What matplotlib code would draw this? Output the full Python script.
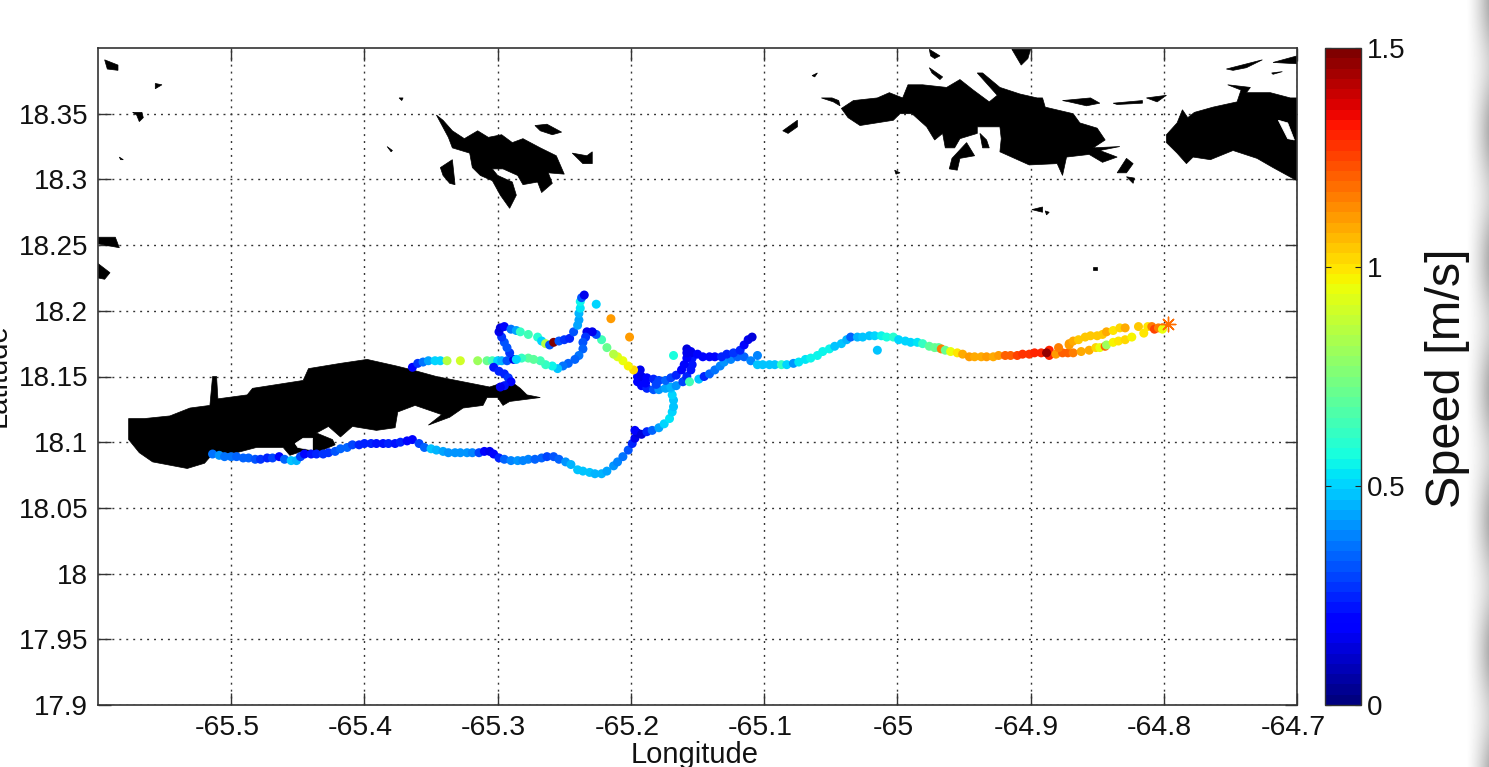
import numpy as np
import matplotlib
matplotlib.use('Agg')
import matplotlib.pyplot as plt
from matplotlib.cm import ScalarMappable
from matplotlib.colors import Normalize
from matplotlib.patches import Polygon
from matplotlib.transforms import ScaledTranslation

plt.rcParams['font.family'] = ['Liberation Sans', 'DejaVu Sans']

x_ticks = [-65.5, -65.4, -65.3, -65.2, -65.1, -65, -64.9, -64.8, -64.7]
x_labels = ['-65.5', '-65.4', '-65.3', '-65.2', '-65.1', '-65', '-64.9', '-64.8', '-64.7']
y_ticks = [17.9, 17.95, 18, 18.05, 18.1, 18.15, 18.2, 18.25, 18.3, 18.35]
y_labels = ['17.9', '17.95', '18', '18.05', '18.1', '18.15', '18.2', '18.25', '18.3', '18.35']
bar_ticks = [0, 0.5, 1, 1.5]
bar_labels = ['0', '0.5', '1', '1.5']

# coastlines, (lon, lat)
vieques = [(-65.577, 18.118), (-65.565, 18.118), (-65.546, 18.120), (-65.531, 18.126), (-65.516, 18.128),
           (-65.514, 18.150), (-65.511, 18.150), (-65.510, 18.133), (-65.488, 18.136), (-65.484, 18.141),
           (-65.446, 18.147), (-65.442, 18.156), (-65.418, 18.160), (-65.398, 18.163), (-65.376, 18.158),
           (-65.364, 18.155), (-65.346, 18.150), (-65.331, 18.147), (-65.306, 18.142), (-65.291, 18.147),
           (-65.283, 18.141), (-65.278, 18.136), (-65.268, 18.134), (-65.291, 18.131), (-65.296, 18.128),
           (-65.300, 18.134), (-65.308, 18.134), (-65.311, 18.128), (-65.326, 18.126), (-65.336, 18.119),
           (-65.352, 18.113), (-65.342, 18.121), (-65.362, 18.128), (-65.375, 18.123), (-65.377, 18.111),
           (-65.391, 18.109), (-65.409, 18.112), (-65.418, 18.104), (-65.427, 18.112), (-65.436, 18.107),
           (-65.424, 18.102), (-65.422, 18.098), (-65.436, 18.092), (-65.447, 18.093), (-65.456, 18.090),
           (-65.461, 18.096), (-65.481, 18.096), (-65.496, 18.092), (-65.514, 18.091), (-65.520, 18.084),
           (-65.533, 18.080), (-65.559, 18.085), (-65.569, 18.092), (-65.577, 18.102)]
culebra = [(-65.346, 18.349), (-65.341, 18.345), (-65.334, 18.337), (-65.325, 18.331), (-65.315, 18.337),
           (-65.307, 18.332), (-65.297, 18.334), (-65.289, 18.328), (-65.281, 18.331), (-65.268, 18.324),
           (-65.256, 18.318), (-65.250, 18.304), (-65.262, 18.305), (-65.259, 18.297), (-65.267, 18.290),
           (-65.270, 18.298), (-65.281, 18.296), (-65.285, 18.303), (-65.296, 18.308), (-65.304, 18.308),
           (-65.300, 18.303), (-65.289, 18.298), (-65.286, 18.288), (-65.291, 18.278), (-65.298, 18.288),
           (-65.304, 18.299), (-65.313, 18.303), (-65.319, 18.309), (-65.321, 18.320), (-65.334, 18.324),
           (-65.337, 18.332)]
st_thomas = [(-65.042, 18.354), (-65.033, 18.360), (-65.015, 18.362), (-65.006, 18.366), (-64.996, 18.362),
             (-64.992, 18.372), (-64.981, 18.372), (-64.963, 18.370), (-64.953, 18.376), (-64.943, 18.368),
             (-64.931, 18.359), (-64.925, 18.364), (-64.940, 18.381), (-64.936, 18.381), (-64.923, 18.370),
             (-64.908, 18.365), (-64.895, 18.362), (-64.891, 18.362), (-64.889, 18.355), (-64.868, 18.350),
             (-64.863, 18.343), (-64.850, 18.339), (-64.844, 18.330), (-64.853, 18.324), (-64.833, 18.325),
             (-64.848, 18.322), (-64.835, 18.317), (-64.846, 18.313), (-64.856, 18.319), (-64.873, 18.317),
             (-64.876, 18.303), (-64.880, 18.312), (-64.901, 18.311), (-64.923, 18.321), (-64.922, 18.331),
             (-64.923, 18.340), (-64.940, 18.340), (-64.940, 18.335), (-64.953, 18.331), (-64.957, 18.324),
             (-64.964, 18.324), (-64.966, 18.335), (-64.972, 18.330), (-64.978, 18.340), (-64.989, 18.350),
             (-64.998, 18.350), (-65.003, 18.345), (-65.028, 18.341), (-65.037, 18.347)]
st_john = [(-64.798, 18.334), (-64.790, 18.343), (-64.786, 18.353), (-64.782, 18.347), (-64.777, 18.351),
           (-64.763, 18.355), (-64.745, 18.359), (-64.742, 18.368), (-64.752, 18.372), (-64.735, 18.370),
           (-64.738, 18.366), (-64.720, 18.366), (-64.705, 18.362), (-64.700, 18.362), (-64.700, 18.299),
           (-64.718, 18.309), (-64.730, 18.316), (-64.748, 18.322), (-64.765, 18.315), (-64.778, 18.317),
           (-64.783, 18.312), (-64.790, 18.320), (-64.798, 18.328)]
small_islands = [
    [(-65.343, 18.309), (-65.334, 18.315), (-65.332, 18.296), (-65.336, 18.297), (-65.341, 18.303)],
    [(-65.272, 18.341), (-65.263, 18.342), (-65.252, 18.336), (-65.259, 18.334), (-65.268, 18.337)],
    [(-65.244, 18.320), (-65.233, 18.318), (-65.229, 18.321), (-65.229, 18.312), (-65.236, 18.312)],
    [(-65.595, 18.391), (-65.585, 18.387), (-65.585, 18.383), (-65.593, 18.384)],
    [(-65.557, 18.373), (-65.552, 18.372), (-65.557, 18.369)],
    [(-65.574, 18.351), (-65.567, 18.351), (-65.566, 18.347), (-65.569, 18.344), (-65.571, 18.349)],
    [(-65.584, 18.317), (-65.581, 18.315), (-65.583, 18.315)],
    [(-65.600, 18.256), (-65.587, 18.256), (-65.584, 18.248), (-65.600, 18.251)],
    [(-65.600, 18.236), (-65.591, 18.229), (-65.595, 18.224), (-65.600, 18.225)],
    [(-65.383, 18.325), (-65.379, 18.322), (-65.380, 18.321)],
    [(-65.374, 18.362), (-65.371, 18.362), (-65.372, 18.360)],
    [(-64.961, 18.308), (-64.959, 18.316), (-64.948, 18.328), (-64.942, 18.318), (-64.953, 18.316), (-64.955, 18.307)],
    [(-64.938, 18.335), (-64.933, 18.330), (-64.931, 18.324), (-64.936, 18.324)],
    [(-64.976, 18.399), (-64.968, 18.394), (-64.972, 18.392), (-64.975, 18.394)],
    [(-64.914, 18.399), (-64.900, 18.399), (-64.902, 18.392), (-64.907, 18.387)],
    [(-64.976, 18.385), (-64.966, 18.378), (-64.968, 18.376), (-64.974, 18.381)],
    [(-65.064, 18.379), (-65.060, 18.381), (-65.062, 18.378)],
    [(-65.086, 18.337), (-65.075, 18.345), (-65.075, 18.340), (-65.082, 18.335)],
    [(-65.057, 18.362), (-65.049, 18.362), (-65.044, 18.360), (-65.043, 18.356), (-65.048, 18.359)],
    [(-64.876, 18.360), (-64.855, 18.362), (-64.848, 18.358), (-64.858, 18.356), (-64.871, 18.359)],
    [(-64.838, 18.358), (-64.816, 18.360), (-64.816, 18.358), (-64.835, 18.357)],
    [(-64.813, 18.362), (-64.798, 18.364), (-64.805, 18.359)],
    [(-64.835, 18.305), (-64.828, 18.316), (-64.823, 18.312), (-64.828, 18.305)],
    [(-64.828, 18.302), (-64.822, 18.301), (-64.823, 18.297)],
    [(-64.899, 18.277), (-64.891, 18.279), (-64.891, 18.275)],
    [(-64.889, 18.276), (-64.886, 18.275), (-64.888, 18.273)],
    [(-65.002, 18.307), (-64.998, 18.305), (-65.001, 18.304)],
    [(-64.853, 18.233), (-64.850, 18.233), (-64.850, 18.231), (-64.853, 18.231)],
    [(-64.753, 18.384), (-64.726, 18.391), (-64.738, 18.385), (-64.748, 18.383)],
    [(-64.718, 18.389), (-64.700, 18.394), (-64.700, 18.388)],
    [(-64.719, 18.381), (-64.711, 18.382), (-64.718, 18.380)],
]
# bays cut out of the land
water = [
    [(-65.452, 18.099), (-65.446, 18.103), (-65.439, 18.103), (-65.439, 18.094), (-65.450, 18.096)],
    [(-64.714, 18.345), (-64.707, 18.343), (-64.702, 18.330), (-64.707, 18.331)],
]

# drifter track, (lon, lat, speed)
south_track = [(-65.514, 18.091, .36), (-65.509, 18.090, .40), (-65.505, 18.089, .36), (-65.500, 18.089, .36),
               (-65.496, 18.089, .34), (-65.491, 18.088, .34), (-65.487, 18.088, .34), (-65.482, 18.087, .32),
               (-65.478, 18.087, .27), (-65.473, 18.088, .25), (-65.469, 18.088, .29), (-65.464, 18.089, .20),
               (-65.460, 18.087, .34), (-65.455, 18.086, .48), (-65.451, 18.086, .45), (-65.448, 18.089, .29),
               (-65.445, 18.091, .19), (-65.440, 18.091, .22), (-65.436, 18.091, .25), (-65.431, 18.091, .27),
               (-65.427, 18.092, .27), (-65.422, 18.093, .32), (-65.418, 18.095, .34), (-65.413, 18.096, .34),
               (-65.409, 18.098, .29), (-65.404, 18.098, .25), (-65.400, 18.099, .25), (-65.395, 18.099, .24),
               (-65.391, 18.099, .23), (-65.386, 18.099, .23), (-65.382, 18.099, .24), (-65.377, 18.099, .23),
               (-65.373, 18.100, .24), (-65.368, 18.101, .21), (-65.364, 18.102, .21), (-65.359, 18.099, .29),
               (-65.355, 18.096, .34), (-65.350, 18.095, .48), (-65.346, 18.094, .45), (-65.341, 18.093, .43),
               (-65.337, 18.092, .42), (-65.332, 18.092, .42), (-65.328, 18.092, .41), (-65.323, 18.092, .41),
               (-65.319, 18.092, .38), (-65.314, 18.092, .29), (-65.310, 18.093, .17), (-65.306, 18.093, .15),
               (-65.303, 18.091, .20), (-65.299, 18.088, .25), (-65.295, 18.087, .34), (-65.290, 18.086, .39),
               (-65.285, 18.086, .40), (-65.281, 18.086, .39), (-65.277, 18.087, .39), (-65.272, 18.087, .34),
               (-65.267, 18.088, .34), (-65.263, 18.089, .29), (-65.258, 18.089, .31), (-65.254, 18.087, .34),
               (-65.249, 18.085, .42), (-65.245, 18.083, .46), (-65.240, 18.079, .49), (-65.236, 18.078, .49),
               (-65.231, 18.077, .47), (-65.227, 18.076, .46), (-65.222, 18.076, .46), (-65.218, 18.078, .44),
               (-65.213, 18.082, .41), (-65.210, 18.085, .39), (-65.206, 18.089, .37), (-65.202, 18.094, .32),
               (-65.199, 18.099, .25), (-65.197, 18.103, .15), (-65.195, 18.107, .13), (-65.197, 18.109, .17),
               (-65.192, 18.106, .13), (-65.188, 18.108, .25), (-65.184, 18.109, .34), (-65.179, 18.111, .44),
               (-65.175, 18.114, .50), (-65.171, 18.118, .52), (-65.169, 18.123, .50), (-65.168, 18.127, .48),
               (-65.168, 18.132, .48), (-65.169, 18.136, .50), (-65.170, 18.141, .48)]
loop_outer = [(-65.193, 18.155, .15), (-65.195, 18.150, .17), (-65.195, 18.146, .17), (-65.192, 18.143, .20),
              (-65.188, 18.141, .25), (-65.183, 18.140, .32), (-65.179, 18.140, .40), (-65.174, 18.141, .44),
              (-65.170, 18.142, .45), (-65.166, 18.143, .40), (-65.161, 18.146, .30), (-65.158, 18.150, .25),
              (-65.155, 18.155, .22), (-65.154, 18.159, .22), (-65.154, 18.164, .22), (-65.155, 18.168, .15),
              (-65.158, 18.171, .12)]
loop_inner = [(-65.192, 18.150, .15), (-65.188, 18.149, .20), (-65.183, 18.148, .25), (-65.179, 18.147, .30),
              (-65.174, 18.147, .35), (-65.170, 18.149, .30), (-65.166, 18.151, .25), (-65.162, 18.155, .20),
              (-65.160, 18.159, .20), (-65.158, 18.164, .18), (-65.158, 18.168, .15), (-65.189, 18.145, .20),
              (-65.181, 18.144, .30)]
branch_east = [(-65.155, 18.169, .15), (-65.150, 18.167, .20), (-65.146, 18.165, .20), (-65.141, 18.165, .20),
               (-65.137, 18.165, .20), (-65.132, 18.165, .25), (-65.128, 18.167, .25), (-65.123, 18.168, .27),
               (-65.118, 18.170, .25), (-65.115, 18.174, .20), (-65.112, 18.178, .15), (-65.109, 18.180, .13)]
branch_back = [(-65.156, 18.146, .65), (-65.149, 18.148, .48), (-65.145, 18.150, .25), (-65.141, 18.152, .34),
               (-65.137, 18.155, .37), (-65.133, 18.158, .39), (-65.130, 18.161, .42), (-65.125, 18.163, .39),
               (-65.120, 18.165, .35), (-65.115, 18.165, .34), (-65.110, 18.162, .39), (-65.105, 18.159, .47)]
east_track = [(-65.101, 18.159, .47), (-65.096, 18.159, .47), (-65.092, 18.159, .47), (-65.087, 18.159, .62),
              (-65.083, 18.159, .50), (-65.078, 18.160, .42), (-65.074, 18.161, .52), (-65.069, 18.163, .53),
              (-65.065, 18.164, .55), (-65.060, 18.166, .55), (-65.056, 18.169, .55), (-65.051, 18.171, .55),
              (-65.047, 18.173, .48), (-65.042, 18.175, .47), (-65.038, 18.178, .45), (-65.035, 18.180, .33),
              (-65.030, 18.180, .45), (-65.026, 18.180, .48), (-65.021, 18.181, .48), (-65.017, 18.181, .50),
              (-65.012, 18.181, .55), (-65.008, 18.180, .58), (-65.003, 18.180, .60), (-64.999, 18.178, .50),
              (-64.994, 18.177, .50), (-64.990, 18.176, .50), (-64.985, 18.176, .52), (-64.981, 18.175, .62),
              (-64.976, 18.173, .68), (-64.972, 18.172, .72), (-64.969, 18.172, .70), (-64.967, 18.171, 1.15),
              (-64.964, 18.170, .72), (-64.960, 18.169, .95), (-64.955, 18.168, 1.00), (-64.951, 18.167, 1.10),
              (-64.946, 18.165, 1.12), (-64.942, 18.165, 1.10), (-64.937, 18.165, 1.10), (-64.933, 18.165, 1.12),
              (-64.928, 18.165, 1.10), (-64.924, 18.166, 1.12), (-64.919, 18.166, 1.20), (-64.915, 18.166, 1.20),
              (-64.910, 18.166, 1.25), (-64.906, 18.167, 1.27), (-64.901, 18.167, 1.27), (-64.897, 18.168, 1.30),
              (-64.892, 18.168, 1.30), (-64.886, 18.170, 1.30), (-64.886, 18.166, 1.30), (-64.888, 18.168, 1.47)]
return_lower = [(-64.881, 18.167, 1.12), (-64.876, 18.168, 1.20), (-64.872, 18.168, 1.20), (-64.868, 18.168, 1.15),
                (-64.862, 18.169, 1.10), (-64.856, 18.170, 1.08), (-64.851, 18.172, 1.02), (-64.848, 18.172, .95),
                (-64.844, 18.173, 1.20), (-64.843, 18.174, .80), (-64.838, 18.176, .97), (-64.834, 18.177, 1.00),
                (-64.829, 18.178, 1.02), (-64.824, 18.180, .98)]
return_upper = [(-64.879, 18.172, 1.15), (-64.871, 18.174, 1.12), (-64.871, 18.175, 1.12), (-64.868, 18.177, 1.10),
                (-64.864, 18.178, 1.05), (-64.859, 18.180, 1.05), (-64.855, 18.181, 1.05), (-64.850, 18.181, 1.05),
                (-64.846, 18.182, 1.05), (-64.843, 18.184, 1.10), (-64.838, 18.185, 1.00), (-64.833, 18.187, 1.02),
                (-64.829, 18.187, 1.10), (-64.819, 18.188, 1.05), (-64.815, 18.183, 1.00), (-64.812, 18.188, 1.00),
                (-64.809, 18.188, 1.15), (-64.807, 18.186, 1.25), (-64.804, 18.187, 1.15), (-64.801, 18.187, 1.20),
                (-64.801, 18.186, .95)]
north_track = [(-65.364, 18.157, .18), (-65.360, 18.160, .28), (-65.356, 18.161, .37), (-65.352, 18.162, .44),
               (-65.347, 18.162, .50), (-65.343, 18.162, .50), (-65.338, 18.162, .85), (-65.328, 18.162, .90),
               (-65.315, 18.162, .82), (-65.308, 18.162, .72), (-65.304, 18.162, .65), (-65.300, 18.162, .50),
               (-65.297, 18.162, .45), (-65.293, 18.162, .32), (-65.288, 18.163, .15), (-65.291, 18.168, .27),
               (-65.293, 18.172, .32), (-65.295, 18.176, .32), (-65.297, 18.180, .27), (-65.299, 18.184, .15),
               (-65.298, 18.187, .12), (-65.295, 18.188, .20), (-65.290, 18.186, .37), (-65.286, 18.185, .44),
               (-65.283, 18.184, .62), (-65.277, 18.182, .65), (-65.270, 18.180, .60), (-65.267, 18.177, .50),
               (-65.264, 18.175, .85), (-65.261, 18.174, .32), (-65.258, 18.176, 1.50), (-65.254, 18.177, .32),
               (-65.250, 18.178, .27), (-65.246, 18.179, .25), (-65.243, 18.184, .32), (-65.240, 18.189, .44),
               (-65.239, 18.193, .44), (-65.239, 18.198, .46), (-65.238, 18.202, .52), (-65.238, 18.207, .55),
               (-65.237, 18.210, .32), (-65.235, 18.212, .15)]
arc_track = [(-65.198, 18.155, 1.02), (-65.202, 18.158, .97), (-65.206, 18.162, .95), (-65.210, 18.165, .92),
             (-65.213, 18.167, .85), (-65.218, 18.172, .72), (-65.222, 18.178, .65), (-65.226, 18.182, .32),
             (-65.229, 18.184, .15), (-65.233, 18.184, .15), (-65.234, 18.180, .27), (-65.236, 18.176, .32),
             (-65.236, 18.171, .35), (-65.239, 18.166, .37), (-65.242, 18.163, .35), (-65.247, 18.160, .34),
             (-65.251, 18.158, .37), (-65.255, 18.156, .47), (-65.259, 18.158, .55), (-65.264, 18.159, .62),
             (-65.268, 18.162, .65), (-65.273, 18.163, .68), (-65.277, 18.164, .70), (-65.282, 18.164, .62),
             (-65.286, 18.163, .50)]
squiggle = [(-65.303, 18.157, .23), (-65.299, 18.154, .25), (-65.295, 18.152, .25), (-65.292, 18.149, .28),
            (-65.290, 18.146, .20), (-65.295, 18.143, .23), (-65.298, 18.142, .15)]
lone_points = [(-65.226, 18.205, .50), (-65.215, 18.194, 1.12), (-65.201, 18.180, 1.12),
               (-65.105, 18.166, .38), (-65.168, 18.166, .58), (-65.015, 18.170, .48)]
end_point = (-64.797, 18.190, 1.18)


def main():
    fig = plt.figure(figsize=(14.89, 7.67), dpi=100)

    # window shadow down the right edge, slightly banded
    back = fig.add_axes([0, 0, 1, 1], zorder=-1)
    rows = np.arange(767)
    depth = 0.24 + 0.07 * np.cos(rows * 2 * np.pi / 130)
    shade = np.ones((767, 1489))
    ramp = np.linspace(0, 1, 24) ** 1.5
    shade[:, 1465:] = 1 - np.outer(depth, ramp)
    back.imshow(shade, cmap='gray', vmin=0, vmax=1, aspect='auto')
    back.axis('off')

    ax = fig.add_axes([98 / 1489, 1 - 705 / 767, 1199 / 1489, 657 / 767])
    norm = Normalize(0, 1.5)
    cmap = plt.get_cmap('jet', 64)

    for coast in [vieques, culebra, st_thomas, st_john] + small_islands:
        ax.add_patch(Polygon(coast, closed=True, fc='black', ec='black', lw=0.5, zorder=2))
    for bay in water:
        ax.add_patch(Polygon(bay, closed=True, fc='white', ec='white', lw=0.5, zorder=2.5))

    segments = [south_track, loop_outer, loop_inner, branch_back, branch_east, east_track,
                return_lower, return_upper, north_track, arc_track, squiggle, lone_points]
    for seg in segments:
        arr = np.array(seg)
        ax.scatter(arr[:, 0], arr[:, 1], c=arr[:, 2], s=42, cmap=cmap, norm=norm, linewidths=0, zorder=3)
    ax.scatter(end_point[0], end_point[1], c=[end_point[2]], s=110, marker=(8, 2, 0), cmap=cmap, norm=norm,
               linewidths=1.0, zorder=4)

    ax.set_xlim(-65.6, -64.7)
    ax.set_ylim(17.9, 18.4)
    ax.set_xticks(x_ticks)
    ax.set_xticklabels(x_labels)
    ax.set_yticks(y_ticks)
    ax.set_yticklabels(y_labels)
    ax.tick_params(axis='both', direction='in', length=9, width=1.0, color='#333333', labelsize=20,
                   top=True, right=True, labelcolor='#111111')
    ax.tick_params(axis='x', pad=7, labelsize=20.5)
    ax.tick_params(axis='y', pad=7)
    # x labels sit a little left of their ticks
    shift = ScaledTranslation(-4 / 100, 0, fig.dpi_scale_trans)
    for label in ax.get_xticklabels():
        label.set_transform(label.get_transform() + shift)
    ax.grid(True, color='#333333', linewidth=1.0, linestyle=(0, (1.4, 3.6)))
    ax.set_axisbelow(True)
    for spine in ax.spines.values():
        spine.set_color('#333333')
        spine.set_linewidth(1.2)

    fig.text(695 / 1489, 1 - 763 / 767, 'Longitude', fontsize=21, ha='center', va='baseline', color='#111111')
    fig.text(6 / 1489, 1 - 375 / 767, 'Latitude', fontsize=21, rotation=90, rotation_mode='anchor',
             ha='center', va='baseline', color='#111111')

    cax = fig.add_axes([1325 / 1489, 1 - 705 / 767, 36 / 1489, 657 / 767])
    bar = fig.colorbar(ScalarMappable(norm=norm, cmap=cmap), cax=cax)
    bar.set_ticks(bar_ticks)
    bar.set_ticklabels(bar_labels)
    cax.tick_params(direction='in', length=4, width=0.8, left=True, right=True, color='#222222',
                    labelsize=20, pad=4, labelcolor='#111111')
    bar.outline.set_edgecolor('#333333')
    bar.outline.set_linewidth(1.0)
    fig.text(1460 / 1489, 1 - 378 / 767, 'Speed [m/s]', fontsize=35, rotation=90, rotation_mode='anchor',
             ha='center', va='baseline', color='#111111')

    fig.savefig('out.png', dpi=100)


if __name__ == "__main__":
    main()
